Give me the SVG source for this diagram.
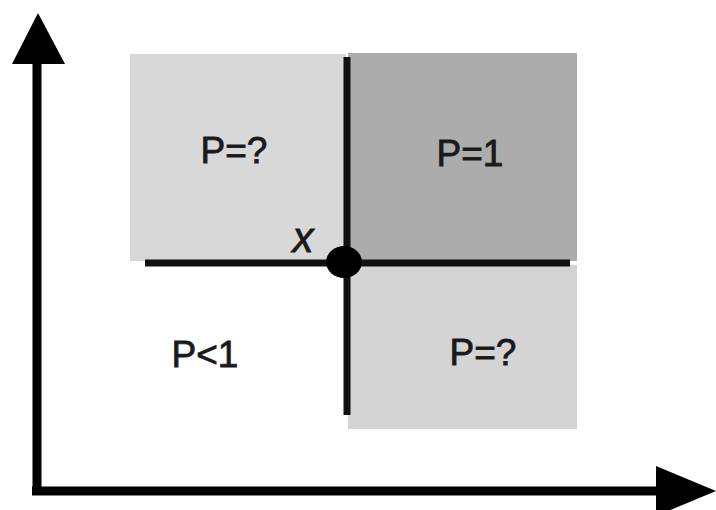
<svg xmlns="http://www.w3.org/2000/svg" width="716" height="510" viewBox="0 0 716 510">
  <style>
    .lbl { font-family: "Liberation Sans", Arial, sans-serif; font-size: 37px; fill: #1a1a1a; stroke: #1a1a1a; stroke-width: 0.8; text-anchor: middle; }
    .ax { stroke: #000; stroke-width: 9; fill: none; }
    .ln { stroke: #111; stroke-width: 7; fill: none; }
  </style>
  <rect width="716" height="510" fill="#ffffff"/>
  <g id="region-top-left">
    <rect x="130" y="54" width="216" height="207" fill="#d8d8d8"/>
    <text class="lbl" x="234" y="163">P=?</text>
  </g>
  <g id="region-top-right">
    <rect x="348" y="53" width="229" height="208" fill="#acacac"/>
    <text class="lbl" x="470" y="166">P=1</text>
  </g>
  <g id="region-bottom-right">
    <rect x="348" y="265" width="229" height="164" fill="#d4d4d4"/>
    <text class="lbl" x="483" y="365">P=?</text>
  </g>
  <g id="region-bottom-left">
    <text class="lbl" x="205" y="367">P&lt;1</text>
  </g>
  <g id="connectors">
    <line class="ln" x1="145" y1="263" x2="570" y2="263"/>
    <line class="ln" x1="347" y1="57" x2="347" y2="415"/>
    <line class="ax" x1="37" y1="55" x2="37" y2="495"/>
    <line class="ax" x1="32" y1="491" x2="662" y2="491"/>
    <polygon points="38,13 12,64 65,64" fill="#000"/>
    <polygon points="716,491 656,466 656,516" fill="#000"/>
  </g>
  <g id="point-x">
    <ellipse cx="344" cy="262" rx="18" ry="16" fill="#000"/>
    <text x="303" y="252" font-family="Liberation Sans, Arial, sans-serif" font-size="42" font-style="italic" fill="#1a1a1a" stroke="#1a1a1a" stroke-width="0.8" text-anchor="middle">x</text>
  </g>
</svg>
